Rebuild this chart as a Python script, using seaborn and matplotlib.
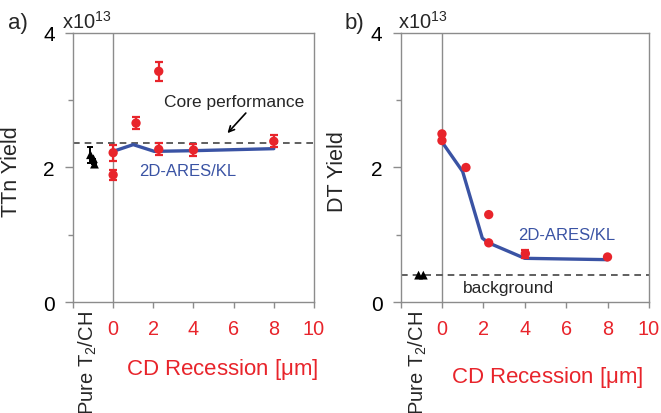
import numpy as np
import pandas as pd
import matplotlib
matplotlib.use("Agg")
import matplotlib.pyplot as plt
import seaborn as sns

# panel a) TTn yield, units of 1e13
a_x = [0, 0, 1.14, 2.27, 2.27, 4, 8]
a_y = [2.22, 1.89, 2.66, 3.43, 2.27, 2.26, 2.39]
a_err = [0.12, 0.07, 0.09, 0.14, 0.09, 0.09, 0.09]
a_tri_x = [-1.13, -0.98, -0.93]
a_tri_y = [2.19, 2.13, 2.05]
a_tri_err = [0.12, 0.0, 0.0]
a_model_x = [0, 1, 2.05, 4, 8]
a_model_y = [2.24, 2.34, 2.24, 2.25, 2.28]
a_ref = 2.37

# panel b) DT yield, units of 1e13
b_x = [0, 0, 1.16, 2.26, 2.26, 4.03, 8]
b_y = [2.5, 2.4, 2.0, 1.3, 0.88, 0.72, 0.67]
b_err = [0, 0, 0, 0, 0, 0.06, 0]
b_tri_x = [-1.13, -0.9]
b_tri_y = [0.40, 0.40]
b_model_x = [0, 1.0, 1.95, 2.25, 4, 8]
b_model_y = [2.38, 1.94, 0.95, 0.88, 0.65, 0.63]
b_ref = 0.40

xticks = [-2, 0, 2, 4, 6, 8, 10]
xticklabels = ["", "0", "2", "4", "6", "8", "10"]

RED = "#e8242b"
BLUE = "#3a53a4"
GRAY = "#8c8c8c"

sns.set_style("white")
plt.rcParams["font.family"] = ["Liberation Sans", "DejaVu Sans"]
plt.rcParams["mathtext.default"] = "regular"

fig = plt.figure(figsize=(6.61, 4.14), dpi=100)
ax_a = fig.add_axes([0.1104, 0.268, 0.3646, 0.650])
ax_b = fig.add_axes([0.606, 0.268, 0.3757, 0.650])


def style_axes(ax, ylabel, ylab_pos, xlab_pos, pure_x):
    ax.set_xlim(-2, 10)
    ax.set_ylim(0, 4)
    for s in ax.spines.values():
        s.set_color(GRAY)
        s.set_linewidth(1.0)
    ax.axvline(0, color=GRAY, lw=1.0, zorder=0)
    ax.set_xticks(xticks)
    ax.set_xticklabels(xticklabels)
    ax.set_yticks([0, 2, 4])
    ax.set_yticks([1, 3], minor=True)
    ax.tick_params(axis="x", which="major", bottom=True, length=4.5, width=1,
                   color=GRAY, labelcolor=RED, labelsize=14.3, pad=8)
    ax.tick_params(axis="y", which="major", left=True, length=6, width=1,
                   color=GRAY, labelcolor="black", labelsize=15, pad=7)
    ax.tick_params(axis="y", which="minor", left=True, length=3.5, width=1,
                   color=GRAY)
    ax.set_ylabel(ylabel, fontsize=15.5)
    ax.yaxis.set_label_coords(*ylab_pos)
    ax.set_xlabel("CD Recession [$\\mu$m]", fontsize=16, color=RED)
    ax.xaxis.set_label_coords(*xlab_pos)
    ax.text(pure_x, -0.03, "Pure T$_2$/CH", rotation=90, ha="center", va="top",
            fontsize=14.5, transform=ax.get_xaxis_transform())


# ---- panel a
style_axes(ax_a, "TTn Yield", (-0.213, 0.49), (0.618, -0.2), -1.27)
ax_a.axhline(a_ref, color="#444444", lw=1.2, ls=(0, (4, 3)), zorder=1)
sns.lineplot(x=a_model_x, y=a_model_y, ax=ax_a, color=BLUE, lw=2.4,
             sort=False, estimator=None, zorder=2)
ax_a.errorbar(a_x, a_y, yerr=a_err, fmt="none", ecolor=RED, elinewidth=1.6,
              capsize=3, capthick=1.6, zorder=3)
sns.scatterplot(x=a_x, y=a_y, ax=ax_a, color=RED, s=45, edgecolor="none", zorder=4)
ax_a.errorbar(a_tri_x, a_tri_y, yerr=a_tri_err, fmt="none", ecolor="black",
              elinewidth=1.4, capsize=2.5, capthick=1.4, zorder=3)
sns.scatterplot(x=a_tri_x, y=a_tri_y, ax=ax_a, color="black", marker="^", s=40,
                edgecolor="none", zorder=4)
ax_a.text(6.03, 2.98, "Core performance", ha="center", va="center", fontsize=12.5)
ax_a.annotate("", xy=(5.6, 2.48), xytext=(6.7, 2.84),
              arrowprops=dict(arrowstyle="->", color="black", lw=1.2))
ax_a.text(3.7, 1.95, "2D-ARES/KL", ha="center", va="center", fontsize=12, color=BLUE)
ax_a.text(-0.047, 1.046, "x10$^{13}$", ha="left", va="center", fontsize=14.4,
          transform=ax_a.transAxes)
fig.text(0.0126, 0.944, "a)", ha="left", va="center", fontsize=16)

# ---- panel b
style_axes(ax_b, "DT Yield", (-0.212, 0.487), (0.591, -0.232), -1.18)
ax_b.axhline(b_ref, color="#444444", lw=1.2, ls=(0, (4, 3)), zorder=1)
sns.lineplot(x=b_model_x, y=b_model_y, ax=ax_b, color=BLUE, lw=2.4,
             sort=False, estimator=None, zorder=2)
ax_b.errorbar(b_x, b_y, yerr=b_err, fmt="none", ecolor=RED, elinewidth=1.6,
              capsize=3, capthick=1.6, zorder=3)
sns.scatterplot(x=b_x, y=b_y, ax=ax_b, color=RED, s=45, edgecolor="none", zorder=4)
sns.scatterplot(x=b_tri_x, y=b_tri_y, ax=ax_b, color="black", marker="^", s=40,
                edgecolor="none", zorder=4)
ax_b.text(6.03, 1.01, "2D-ARES/KL", ha="center", va="center", fontsize=12, color=BLUE)
ax_b.text(3.22, 0.21, "background", ha="center", va="center", fontsize=12.5)
ax_b.text(-0.01, 1.046, "x10$^{13}$", ha="left", va="center", fontsize=14.4,
          transform=ax_b.transAxes)
fig.text(0.522, 0.944, "b)", ha="left", va="center", fontsize=16)

fig.savefig("out.png", dpi=100)
